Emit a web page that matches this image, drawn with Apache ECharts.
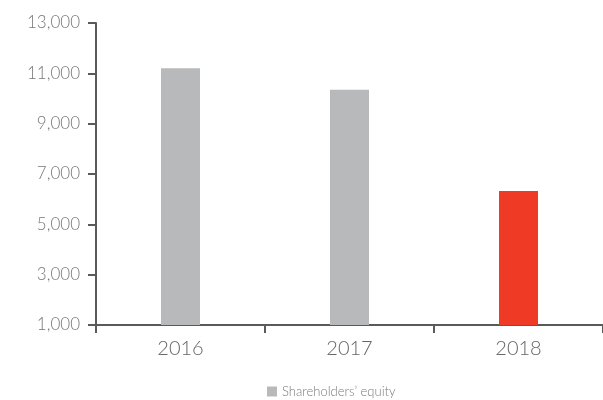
<!DOCTYPE html>
<html>
<head>
<meta charset="utf-8">
<script src="https://cdn.jsdelivr.net/npm/echarts@6/dist/echarts.min.js"></script>
<style>
  html, body { margin: 0; padding: 0; background: #fff; }
  #chart { width: 603px; height: 400px; }
</style>
</head>
<body>
<div id="chart"></div>
<script>
// Shareholders' equity by year
const years = ['2016', '2017', '2018'];
const equity = [11200, 10350, 6320];
const yTicks = [1000, 3000, 5000, 7000, 9000, 11000, 13000];
const seriesName = "Shareholders’ equity";

const GREY = '#b8b9ba';
const RED = '#ef3a26';
const AXIS = '#5a5a5a';
const FONT = 'Lato, "Open Sans", sans-serif';

const chart = echarts.init(document.getElementById('chart'), null, { renderer: 'canvas' });

chart.setOption({
  animation: false,
  backgroundColor: '#ffffff',
  grid: { left: 96, top: 23, width: 510, bottom: 75, containLabel: false },
  legend: {
    data: [{ name: seriesName, itemStyle: { color: GREY } }],
    left: 262,
    top: 380,
    itemWidth: 10,
    itemHeight: 10,
    itemGap: 10,
    icon: 'rect',
    textStyle: { color: '#7a7a7a', fontSize: 13, fontFamily: FONT, fontWeight: 300 }
  },
  xAxis: {
    type: 'category',
    data: years,
    boundaryGap: true,
    axisLine: { lineStyle: { color: AXIS, width: 2 } },
    axisTick: { show: true, length: 8, lineStyle: { color: AXIS, width: 2 } },
    axisLabel: { color: '#666', fontSize: 20, fontFamily: FONT, fontWeight: 300, margin: 14 }
  },
  yAxis: {
    type: 'value',
    min: 1000,
    max: 13000,
    interval: 2000,
    axisLine: { show: true, lineStyle: { color: AXIS, width: 2 } },
    axisTick: { show: true, length: 8, lineStyle: { color: AXIS, width: 2 }, customValues: yTicks },
    axisLabel: {
      color: '#777', fontSize: 17, fontFamily: FONT, fontWeight: 300, margin: 16,
      customValues: yTicks,
      formatter: v => v.toLocaleString('en-US')
    },
    splitLine: { show: false }
  },
  series: [{
    name: seriesName,
    type: 'bar',
    barWidth: 39,
    itemStyle: { color: GREY },
    data: equity.map((v, i) => ({
      value: v,
      itemStyle: { color: i === equity.length - 1 ? RED : GREY }
    }))
  }]
});
</script>
</body>
</html>
